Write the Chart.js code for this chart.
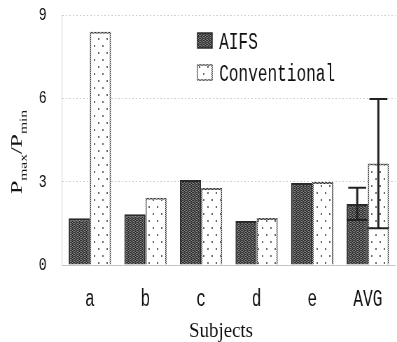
<!DOCTYPE html>
<html>
<head>
<meta charset="utf-8">
<script src="https://cdn.jsdelivr.net/npm/chart.js@4"></script>
<style>
  html, body { margin: 0; padding: 0; background: #fff; overflow: hidden; }
  #chart { display: block; }
</style>
</head>
<body>
<!-- the original figure is squashed sideways, so draw wide and shrink -->
<canvas id="chart" width="567" height="342" style="width:397px;height:342px"></canvas>
<script>
const subjects = ['a', 'b', 'c', 'd', 'e', 'AVG'];
const aifs = [1.68, 1.83, 3.06, 1.58, 2.95, 2.2];
const conventional = [8.4, 2.42, 2.77, 1.69, 2.99, 3.65];
const aifsErr = [null, null, null, null, null, 0.58];
const conventionalErr = [null, null, null, null, null, 2.33];
const yTicks = [0, 3, 6, 9];

const SQUASH = 397 / 567;   // screen px per canvas px, horizontally

const canvas = document.getElementById('chart');
const ctx = canvas.getContext('2d');

function makePattern(w, h, draw) {
    const c = document.createElement('canvas');
    c.width = w;
    c.height = h;
    draw(c.getContext('2d'));
    return ctx.createPattern(c, 'repeat');
}

// dark crosshatch-ish texture
const aifsFill = makePattern(4, 4, g => {
    g.fillStyle = '#8e8e8e';
    g.fillRect(0, 0, 4, 4);
    g.fillStyle = '#262626';
    [[0, 0], [2, 0], [1, 1], [3, 1], [0, 2], [2, 2], [1, 3], [3, 3]]
        .forEach(([x, y]) => g.fillRect(x, y, 1, 1));
    g.fillStyle = '#4a4a4a';
    g.fillRect(1, 2, 1, 1);
    g.fillRect(3, 0, 1, 1);
});
const convFill = makePattern(12, 14, g => {
    g.fillStyle = '#fff';
    g.fillRect(0, 0, 12, 14);
    g.fillStyle = '#6a6a6a';
    g.fillRect(2, 3, 2, 2);
    g.fillRect(8, 10, 2, 2);
});
const convBorder = makePattern(2, 2, g => {
    g.fillStyle = '#bbb';
    g.fillRect(0, 0, 2, 2);
    g.fillStyle = '#222';
    g.fillRect(0, 0, 1, 1);
    g.fillRect(1, 1, 1, 1);
});

const errorBars = {
    id: 'errorBars',
    afterDatasetsDraw(chart) {
        const { ctx, scales: { y } } = chart;
        [aifsErr, conventionalErr].forEach((errs, di) => {
            const meta = chart.getDatasetMeta(di);
            const vals = chart.data.datasets[di].data;
            meta.data.forEach((bar, i) => {
                if (errs[i] == null) return;
                const top = y.getPixelForValue(vals[i] + errs[i]);
                const bot = y.getPixelForValue(vals[i] - errs[i]);
                const half = bar.width / 2;
                ctx.save();
                ctx.strokeStyle = '#222';
                ctx.lineWidth = 3;
                ctx.beginPath();
                ctx.moveTo(bar.x, top);
                ctx.lineTo(bar.x, bot);
                ctx.stroke();
                ctx.lineWidth = 2;
                ctx.beginPath();
                ctx.moveTo(bar.x - half * 0.85, top);
                ctx.lineTo(bar.x + half * 0.85, top);
                ctx.moveTo(bar.x - half, bot);
                ctx.lineTo(bar.x + half, bot);
                ctx.stroke();
                ctx.restore();
            });
        });
    }
};

// legend and axis titles, drawn by hand because of the subscripts
const labels = {
    id: 'labels',
    afterDraw(chart) {
        const { ctx } = chart;
        ctx.save();

        // legend
        const rows = [
            { fill: aifsFill, border: '#2a2a2a', y: 33 },
            { fill: convFill, border: convBorder, y: 65 }
        ];
        ctx.font = '23px "Liberation Mono", monospace';
        ctx.textBaseline = 'alphabetic';
        ctx.textAlign = 'left';
        rows.forEach((r, i) => {
            ctx.fillStyle = r.fill;
            ctx.fillRect(282, r.y, 21, 15);
            ctx.strokeStyle = r.border;
            ctx.lineWidth = 1.5;
            ctx.strokeRect(282, r.y, 21, 15);
            ctx.fillStyle = '#111';
            ctx.fillText(chart.data.datasets[i].label, 313, r.y + 16);
        });

        // y title: Pmax/Pmin
        const parts = [
            ['P', 24, 0], ['max', 15.5, 7], ['/', 24, 0], ['P', 24, 0], ['min', 15.5, 7]
        ];
        let total = 0;
        parts.forEach(p => {
            ctx.font = p[1] + 'px "Liberation Serif", serif';
            p.push(ctx.measureText(p[0]).width);
            total += p[3];
        });
        ctx.translate(31, 152);
        ctx.rotate(-Math.PI / 2);
        ctx.fillStyle = '#111';
        let x = -total / 2;
        parts.forEach(p => {
            ctx.font = p[1] + 'px "Liberation Serif", serif';
            ctx.fillText(p[0], x, p[2]);
            x += p[3];
        });
        ctx.setTransform(1, 0, 0, 1, 0, 0);

        // x title
        ctx.translate(221 / SQUASH, 337);
        ctx.scale(1.35, 1);
        ctx.font = '20px "Liberation Serif", serif';
        ctx.textAlign = 'center';
        ctx.fillText('Subjects', 0, 0);
        ctx.restore();
    }
};

new Chart(ctx, {
    type: 'bar',
    data: {
        labels: subjects,
        datasets: [
            {
                label: 'AIFS',
                data: aifs,
                backgroundColor: aifsFill,
                borderColor: '#2a2a2a',
                borderWidth: 2
            },
            {
                label: 'Conventional',
                data: conventional,
                backgroundColor: convFill,
                borderColor: convBorder,
                borderWidth: 2
            }
        ]
    },
    options: {
        responsive: false,
        animation: false,
        devicePixelRatio: 1,
        layout: { padding: { top: 15, left: 0, right: 0, bottom: 0 } },
        datasets: {
            bar: { categoryPercentage: 0.76, barPercentage: 1 }
        },
        plugins: {
            legend: { display: false },
            tooltip: { enabled: false }
        },
        scales: {
            x: {
                grid: { display: false, drawTicks: false },
                border: { display: true, color: '#c4c4c4', width: 1 },
                ticks: {
                    color: '#111',
                    padding: 21,
                    font: { family: '"Liberation Mono", monospace', size: 23 }
                },
                afterFit: s => { s.height = 77; }
            },
            y: {
                min: 0,
                max: 9,
                afterBuildTicks: s => { s.ticks = yTicks.map(v => ({ value: v })); },
                grid: { color: '#cacaca', lineWidth: 1, drawTicks: false },
                border: { display: true, color: '#d0d0d0', width: 1, dash: [2, 3] },
                ticks: {
                    color: '#111',
                    padding: 22,
                    font: { family: '"Liberation Mono", monospace', size: 19 }
                },
                afterFit: s => {
                    s.width = 88.6;
                    s.paddingTop = 0;
                    s.paddingBottom = 0;
                }
            }
        }
    },
    plugins: [errorBars, labels]
});
</script>
</body>
</html>
